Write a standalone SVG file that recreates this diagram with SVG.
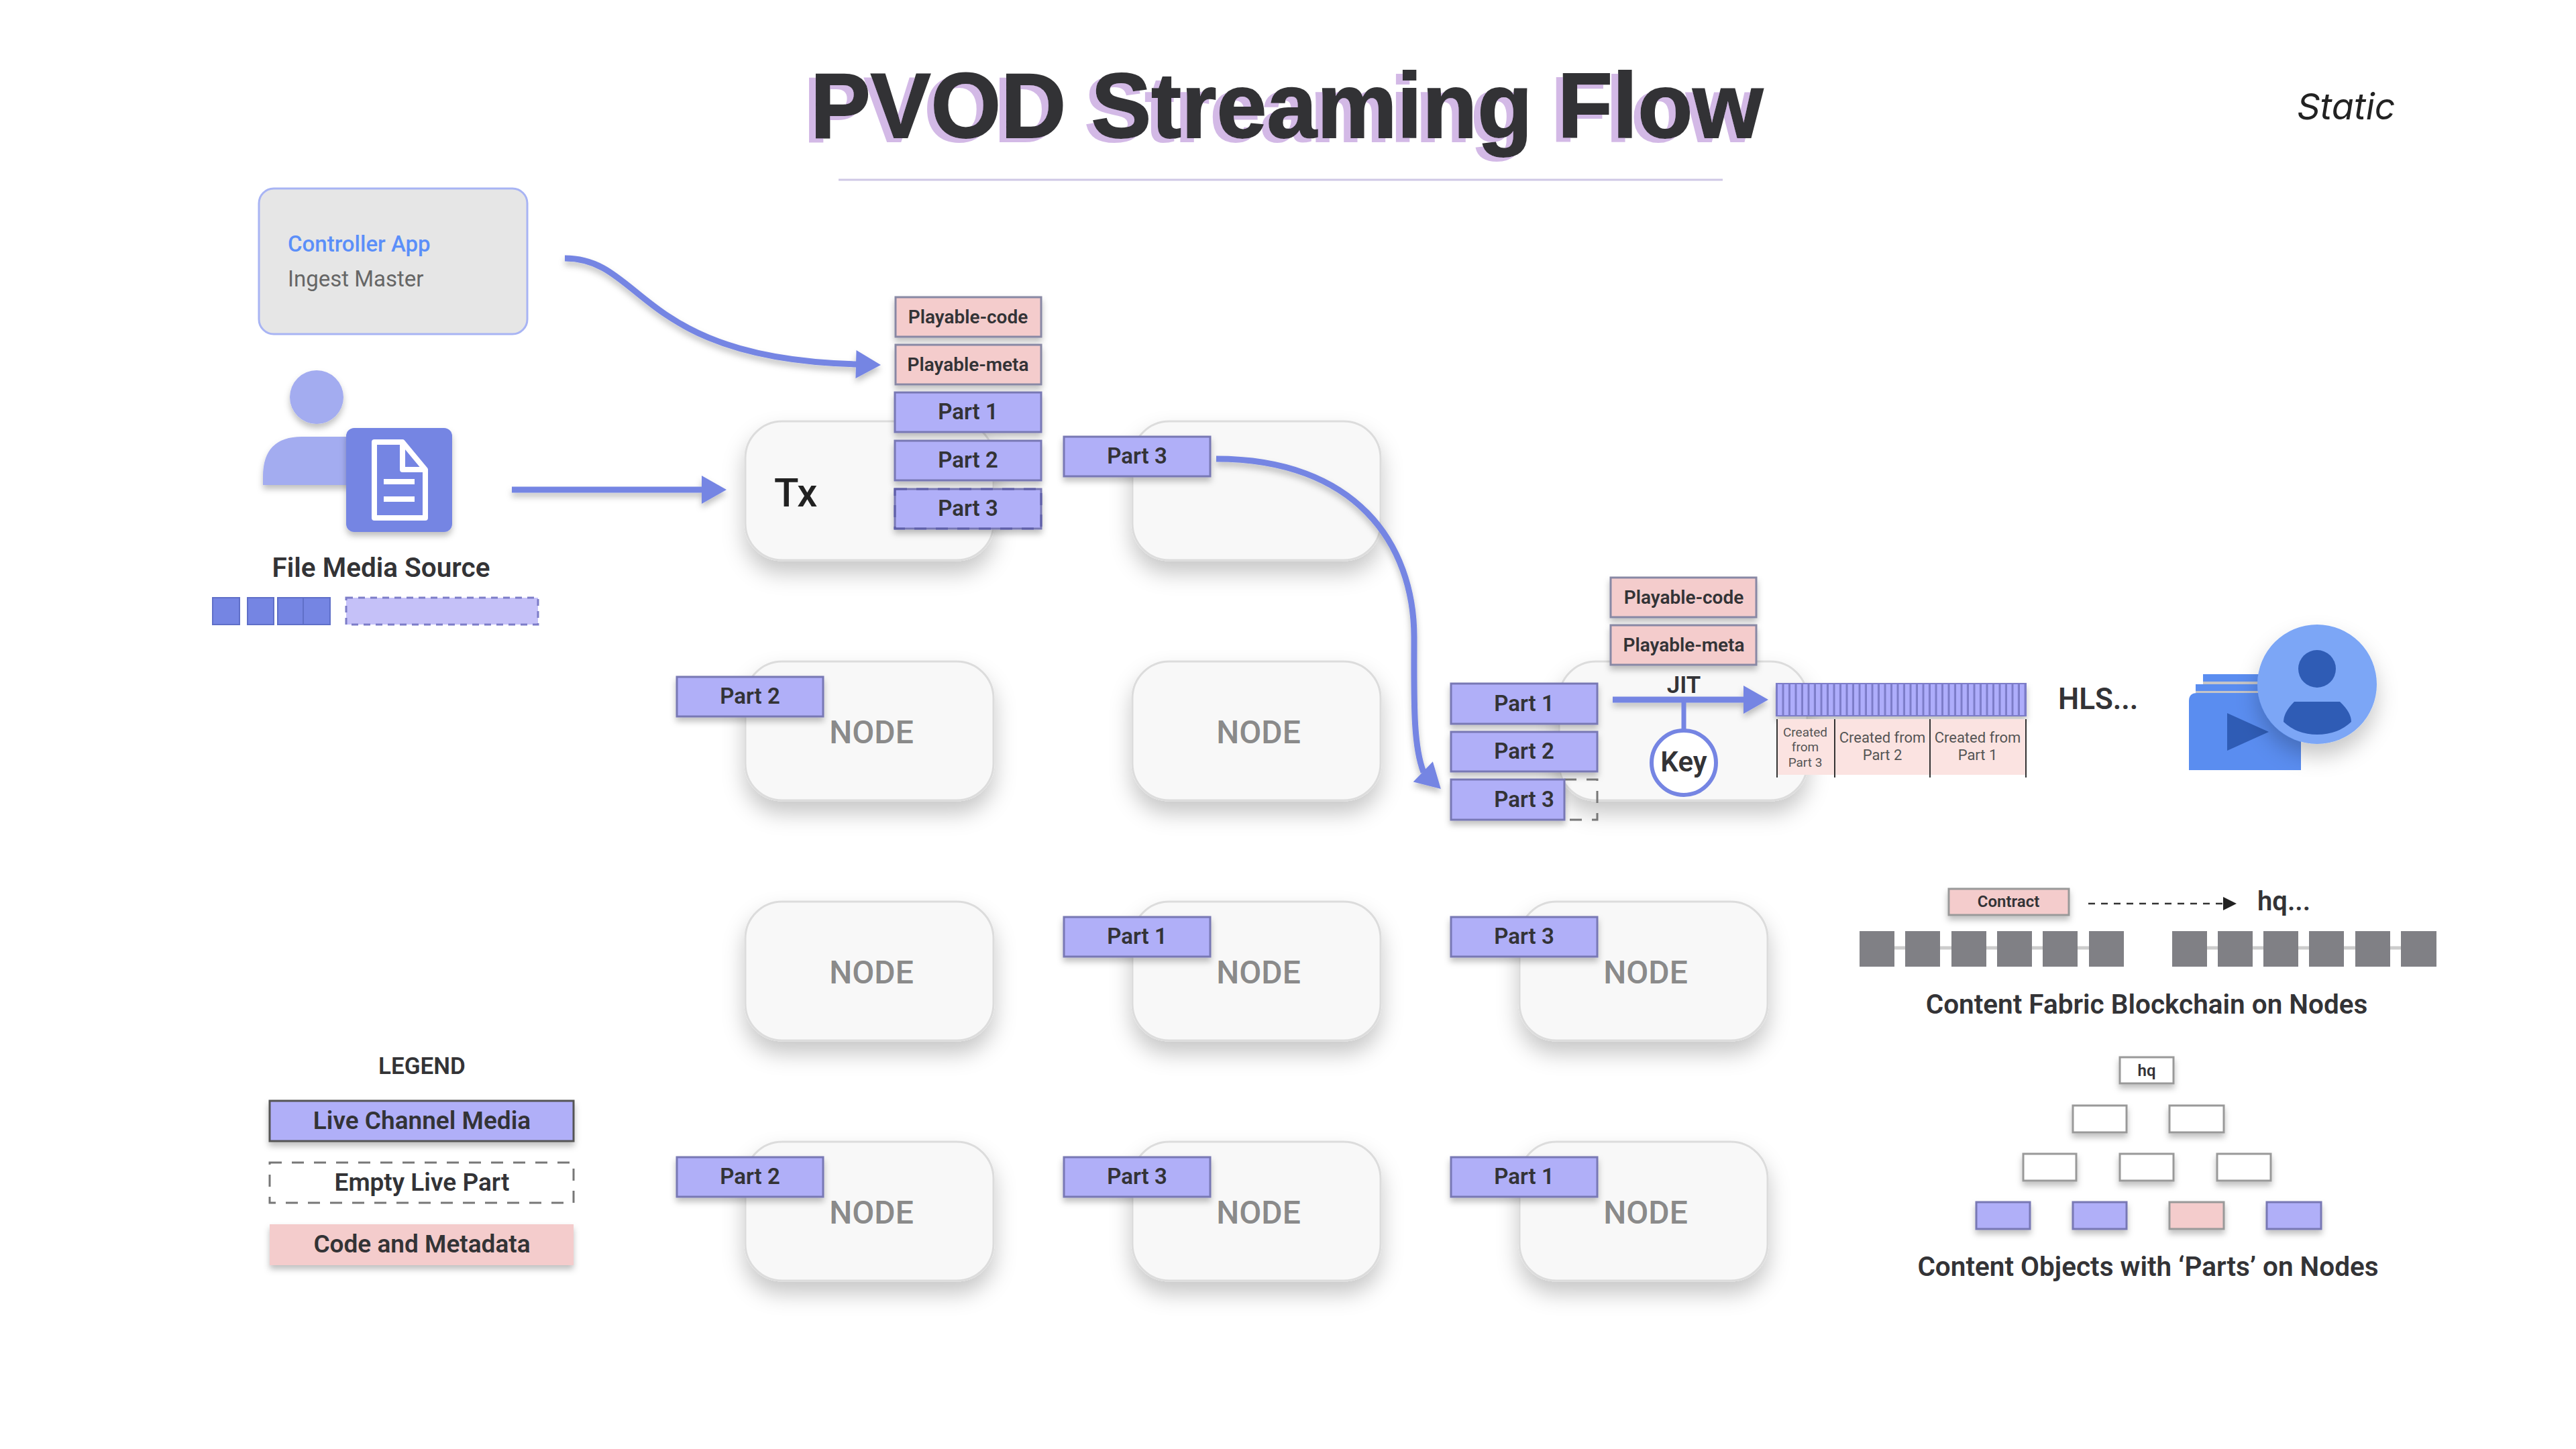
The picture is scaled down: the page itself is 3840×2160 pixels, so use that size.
<svg xmlns="http://www.w3.org/2000/svg" width="3840" height="2160" viewBox="0 0 3840 2160">
<defs>
<filter id="sNode" filterUnits="userSpaceOnUse" x="0" y="0" width="3840" height="2160"><feDropShadow dx="0" dy="18" stdDeviation="16" flood-color="#000" flood-opacity=".22"/></filter>
<filter id="sSmall" filterUnits="userSpaceOnUse" x="0" y="0" width="3840" height="2160"><feDropShadow dx="0" dy="6" stdDeviation="5" flood-color="#000" flood-opacity=".25"/></filter>
<filter id="sTitle" filterUnits="userSpaceOnUse" x="1100" y="40" width="1640" height="240"><feDropShadow dx="-10" dy="6" stdDeviation="0" flood-color="#d3b9e6" flood-opacity="1"/></filter>
<marker id="head" markerUnits="userSpaceOnUse" markerWidth="38" markerHeight="44" refX="1" refY="22" orient="auto" overflow="visible"><path d="M0 1L37 22L0 43Z" fill="#7585e3"/></marker>
<marker id="headTilt" markerUnits="userSpaceOnUse" markerWidth="38" markerHeight="44" refX="1" refY="22" orient="44" overflow="visible"><path d="M0 1L37 22L0 43Z" fill="#7585e3"/></marker>
<marker id="headDark" markerUnits="userSpaceOnUse" markerWidth="22" markerHeight="22" refX="1" refY="11" orient="auto"><path d="M0 1L20 11L0 21Z" fill="#222"/></marker>
<pattern id="stripes" patternUnits="userSpaceOnUse" x="2650" y="0" width="9.5" height="10"><rect width="9.5" height="10" fill="#aeadfb"/><rect x="6.5" width="3" height="10" fill="#7c7cc8"/></pattern>
</defs>
<style>
text{font-family:Roboto,"Liberation Sans",sans-serif;fill:#333336;font-weight:600}
.node{fill:#f8f8f8;stroke:#dcdcdc;stroke-width:3;filter:url(#sNode)}
.nt{font-size:48px;fill:#8a8a8a;font-weight:500;text-anchor:middle}
.part{fill:#b0aff8;stroke:#7878b4;stroke-width:3;filter:url(#sSmall)}
.pink{fill:#f4cccc;stroke:#8888a4;stroke-width:3;filter:url(#sSmall)}
.pt{font-size:33px;text-anchor:middle}
.ct{font-size:28px;text-anchor:middle}
.dash{fill:none;stroke:#777;stroke-width:3;stroke-dasharray:18 15}
.conn{fill:none;stroke:#7585e3;stroke-width:9;filter:url(#sSmall)}
.blk{fill:#808085}
.lnk{stroke:#ccc;stroke-width:5}
.box{fill:#fff;stroke:#999;stroke-width:3;filter:url(#sSmall)}
.lg{font-size:37px;text-anchor:middle}
.cap{font-size:40.5px;text-anchor:middle}
.seg{fill:#fbe3e1}
.sl{stroke:#333;stroke-width:2}
.st{fill:#555;font-weight:400;text-anchor:middle}
.sq{fill:#7585e3;stroke:#5f6fc8;stroke-width:2}
</style>
<rect width="3840" height="2160" fill="#fff"/>

<g id="title">
<text x="1208" y="205" font-size="137" textLength="1420" lengthAdjust="spacingAndGlyphs" filter="url(#sTitle)" style='font-family:"Liberation Sans",Arial,sans-serif;font-weight:700;fill:#333336;stroke:#333336;stroke-width:2'>PVOD Streaming Flow</text>
<line x1="1250" y1="268" x2="2568" y2="268" stroke="#cfc8e6" stroke-width="3"/>
</g>
<text id="static" x="3424" y="178" font-size="54" style="font-family:Inter,sans-serif;font-style:italic;font-weight:400;fill:#222">Static</text>

<g id="controller">
<rect x="386" y="281" width="400" height="217" rx="22" fill="#e6e6e6" stroke="#a8b4f4" stroke-width="3"/>
<text x="429" y="375" font-size="33" style="fill:#5b8ff9;font-weight:500">Controller App</text>
<text x="429" y="427" font-size="33" style="fill:#666;font-weight:400">Ingest Master</text>
</g>

<g id="source">
<circle cx="472" cy="592" r="40" fill="#a3acf0" filter="url(#sSmall)"/>
<path d="M392 723V710Q392 651 450 651H530V723Z" fill="#a3acf0" filter="url(#sSmall)"/>
<rect x="516" y="638" width="158" height="155" rx="12" fill="#7585e3" filter="url(#sSmall)"/>
<path d="M558 659H600L634 700V772H558Z" fill="none" stroke="#fff" stroke-width="8" stroke-linejoin="round"/>
<path d="M600 659V700H634" fill="none" stroke="#fff" stroke-width="8" stroke-linejoin="round"/>
<path d="M572 718H618M572 744H618" stroke="#fff" stroke-width="8"/>
<text class="cap" x="568" y="860">File Media Source</text>
<rect class="sq" x="317" y="891" width="40" height="40"/>
<rect class="sq" x="369" y="891" width="39" height="40"/>
<rect class="sq" x="414" y="891" width="38" height="40"/>
<rect class="sq" x="452" y="891" width="40" height="40"/>
<rect x="516" y="891" width="286" height="40" fill="#c5c1f8" stroke="#7c7cc8" stroke-width="3" stroke-dasharray="10 8"/>
</g>

<g id="node-tx"><rect class="node" x="1111" y="628" width="370" height="207" rx="55"/><text x="1154" y="755" font-size="60" style="font-weight:500;fill:#222">Tx</text></g>
<g id="node-r1c2"><rect class="node" x="1688" y="628" width="370" height="207" rx="55"/></g>
<g id="node-r2c1"><rect class="node" x="1111" y="986" width="370" height="207" rx="55"/><text class="nt" x="1299" y="1108">NODE</text></g>
<g id="node-r2c2"><rect class="node" x="1688" y="986" width="370" height="207" rx="55"/><text class="nt" x="1876" y="1108">NODE</text></g>
<g id="node-jit"><rect class="node" x="2324" y="986" width="370" height="207" rx="55"/></g>
<g id="node-r3c1"><rect class="node" x="1111" y="1344" width="370" height="207" rx="55"/><text class="nt" x="1299" y="1466">NODE</text></g>
<g id="node-r3c2"><rect class="node" x="1688" y="1344" width="370" height="207" rx="55"/><text class="nt" x="1876" y="1466">NODE</text></g>
<g id="node-r3c3"><rect class="node" x="2265" y="1344" width="370" height="207" rx="55"/><text class="nt" x="2453" y="1466">NODE</text></g>
<g id="node-r4c1"><rect class="node" x="1111" y="1702" width="370" height="207" rx="55"/><text class="nt" x="1299" y="1824">NODE</text></g>
<g id="node-r4c2"><rect class="node" x="1688" y="1702" width="370" height="207" rx="55"/><text class="nt" x="1876" y="1824">NODE</text></g>
<g id="node-r4c3"><rect class="node" x="2265" y="1702" width="370" height="207" rx="55"/><text class="nt" x="2453" y="1824">NODE</text></g>

<g id="connectors">
<path class="conn" marker-end="url(#head)" d="M842 385C960 385 950 535 1277 543"/>
<path class="conn" marker-end="url(#head)" d="M763 730H1047"/>
<path class="conn" marker-end="url(#headTilt)" d="M1813 684C2020 684 2108 810 2108 950C2108 1040 2106 1110 2122 1151"/>
<path class="conn" marker-end="url(#head)" d="M2404 1043H2600"/>
<line x1="2510" y1="1043" x2="2510" y2="1092" stroke="#7585e3" stroke-width="7"/>
<path d="M3113 1347H3315" fill="none" stroke="#333" stroke-width="2.5" stroke-dasharray="10 9" marker-end="url(#headDark)"/>
</g>

<g id="tx-stack">
<rect class="pink" x="1335" y="443" width="217" height="59"/><text class="ct" x="1443" y="482">Playable-code</text>
<rect class="pink" x="1335" y="514" width="217" height="59"/><text class="ct" x="1443" y="553">Playable-meta</text>
<rect class="part" x="1334" y="585" width="218" height="59"/><text class="pt" x="1443" y="625">Part 1</text>
<rect class="part" x="1334" y="657" width="218" height="59"/><text class="pt" x="1443" y="697">Part 2</text>
<rect class="part" x="1334" y="729" width="218" height="59"/><rect x="1334" y="729" width="218" height="59" fill="none" stroke="#5f5fa8" stroke-width="3" stroke-dasharray="18 14"/><text class="pt" x="1443" y="769">Part 3</text>
</g>
<g id="part-r1c2"><rect class="part" x="1586" y="651" width="218" height="59"/><text class="pt" x="1695" y="691">Part 3</text></g>
<g id="part-r2c1"><rect class="part" x="1009" y="1009" width="218" height="59"/><text class="pt" x="1118" y="1049">Part 2</text></g>
<g id="part-r3c2"><rect class="part" x="1586" y="1367" width="218" height="59"/><text class="pt" x="1695" y="1407">Part 1</text></g>
<g id="part-r3c3"><rect class="part" x="2163" y="1367" width="218" height="59"/><text class="pt" x="2272" y="1407">Part 3</text></g>
<g id="part-r4c1"><rect class="part" x="1009" y="1725" width="218" height="59"/><text class="pt" x="1118" y="1765">Part 2</text></g>
<g id="part-r4c2"><rect class="part" x="1586" y="1725" width="218" height="59"/><text class="pt" x="1695" y="1765">Part 3</text></g>
<g id="part-r4c3"><rect class="part" x="2163" y="1725" width="218" height="59"/><text class="pt" x="2272" y="1765">Part 1</text></g>

<g id="jit-stack">
<rect class="pink" x="2401" y="861" width="217" height="59"/><text class="ct" x="2510" y="900">Playable-code</text>
<rect class="pink" x="2401" y="932" width="217" height="59"/><text class="ct" x="2510" y="971">Playable-meta</text>
<rect class="part" x="2163" y="1019" width="218" height="60"/><text class="pt" x="2272" y="1060">Part 1</text>
<rect class="part" x="2163" y="1091" width="218" height="59"/><text class="pt" x="2272" y="1131">Part 2</text>
<path class="dash" d="M2332 1162H2381V1222H2332"/>
<rect class="part" x="2163" y="1162" width="169" height="60"/><text class="pt" x="2272" y="1203">Part 3</text>
<text x="2510" y="1033" font-size="35" text-anchor="middle">JIT</text>
</g>
<g id="key"><circle cx="2510" cy="1137" r="48" fill="#fff" stroke="#7585e3" stroke-width="6"/><text x="2510" y="1150" font-size="42" text-anchor="middle">Key</text></g>

<g id="hls">
<rect x="2648" y="1019" width="372" height="48" fill="url(#stripes)" stroke="#7c7cc8" stroke-width="2" filter="url(#sSmall)"/>
<rect class="seg" x="2648" y="1072" width="86" height="83"/>
<rect class="seg" x="2735" y="1072" width="142" height="83"/>
<rect class="seg" x="2878" y="1072" width="142" height="83"/>
<path class="sl" d="M2649 1072V1159M2735 1072V1159M2877 1072V1159M3020 1072V1159"/>
<text class="st" font-size="19" x="2691" y="1098">Created</text>
<text class="st" font-size="19" x="2691" y="1120">from</text>
<text class="st" font-size="19" x="2691" y="1143">Part 3</text>
<text class="st" font-size="22" x="2806" y="1107">Created from</text>
<text class="st" font-size="22" x="2806" y="1133">Part 2</text>
<text class="st" font-size="22" x="2948" y="1107">Created from</text>
<text class="st" font-size="22" x="2948" y="1133">Part 1</text>
<text x="3068" y="1057" font-size="44">HLS...</text>
</g>

<g id="viewer">
<rect x="3284" y="1005" width="120" height="11" fill="#5a8df0"/>
<rect x="3284" y="1016" width="120" height="4" fill="#c4c4c8"/>
<rect x="3273" y="1020" width="130" height="10" fill="#5a8df0"/>
<rect x="3273" y="1030" width="130" height="3" fill="#c4c4c8"/>
<path d="M3263 1045Q3263 1033 3275 1033H3430V1148H3263Z" fill="#5a8df0"/>
<path d="M3320 1063L3382 1091L3320 1119Z" fill="#2f5cb5"/>
<circle cx="3454" cy="1020" r="89" fill="#7ba6f6" filter="url(#sNode)"/>
<circle cx="3454" cy="997" r="28" fill="#2f5cb5"/>
<path d="M3420 1046H3488Q3505 1062 3505 1076Q3485 1095 3454 1095Q3424 1095 3404 1076Q3404 1062 3420 1046Z" fill="#2f5cb5"/>
</g>

<g id="blockchain">
<rect class="pink" x="2905" y="1325" width="179" height="39" style="stroke:#999"/><text x="2994" y="1352" font-size="24" text-anchor="middle">Contract</text>
<text x="3365" y="1357" font-size="40">hq...</text>
<path class="lnk" d="M2772 1413H3166M3238 1413H3632"/>
<rect class="blk" x="2772" y="1388" width="52" height="53"/><rect class="blk" x="2840" y="1388" width="52" height="53"/><rect class="blk" x="2909" y="1388" width="52" height="53"/><rect class="blk" x="2977" y="1388" width="52" height="53"/><rect class="blk" x="3045" y="1388" width="52" height="53"/><rect class="blk" x="3114" y="1388" width="52" height="53"/>
<rect class="blk" x="3238" y="1388" width="52" height="53"/><rect class="blk" x="3306" y="1388" width="52" height="53"/><rect class="blk" x="3374" y="1388" width="52" height="53"/><rect class="blk" x="3442" y="1388" width="52" height="53"/><rect class="blk" x="3511" y="1388" width="52" height="53"/><rect class="blk" x="3579" y="1388" width="53" height="53"/>
<text class="cap" x="3200" y="1511">Content Fabric Blockchain on Nodes</text>
</g>

<g id="objects">
<rect class="box" x="3160" y="1576" width="80" height="39"/><text x="3200" y="1604" font-size="24" text-anchor="middle">hq</text>
<rect class="box" x="3090" y="1648" width="80" height="40"/><rect class="box" x="3234" y="1648" width="81" height="40"/>
<rect class="box" x="3016" y="1720" width="79" height="40"/><rect class="box" x="3160" y="1720" width="80" height="40"/><rect class="box" x="3305" y="1720" width="80" height="40"/>
<rect class="part" x="2946" y="1792" width="80" height="40"/><rect class="part" x="3090" y="1792" width="80" height="40"/><rect class="pink" x="3234" y="1792" width="81" height="40" style="stroke:#999"/><rect class="part" x="3379" y="1792" width="81" height="40"/>
<text class="cap" x="3202" y="1902">Content Objects with ‘Parts’ on Nodes</text>
</g>

<g id="legend">
<text x="629" y="1601" font-size="35" text-anchor="middle">LEGEND</text>
<rect class="part" x="402" y="1641" width="453" height="60" style="stroke:#555"/><text class="lg" x="629" y="1683">Live Channel Media</text>
<rect class="dash" x="402" y="1733" width="453" height="60"/><text class="lg" x="629" y="1775">Empty Live Part</text>
<rect x="402" y="1825" width="453" height="61" fill="#f4cccc" filter="url(#sSmall)"/><text class="lg" x="629" y="1867">Code and Metadata</text>
</g>
</svg>
